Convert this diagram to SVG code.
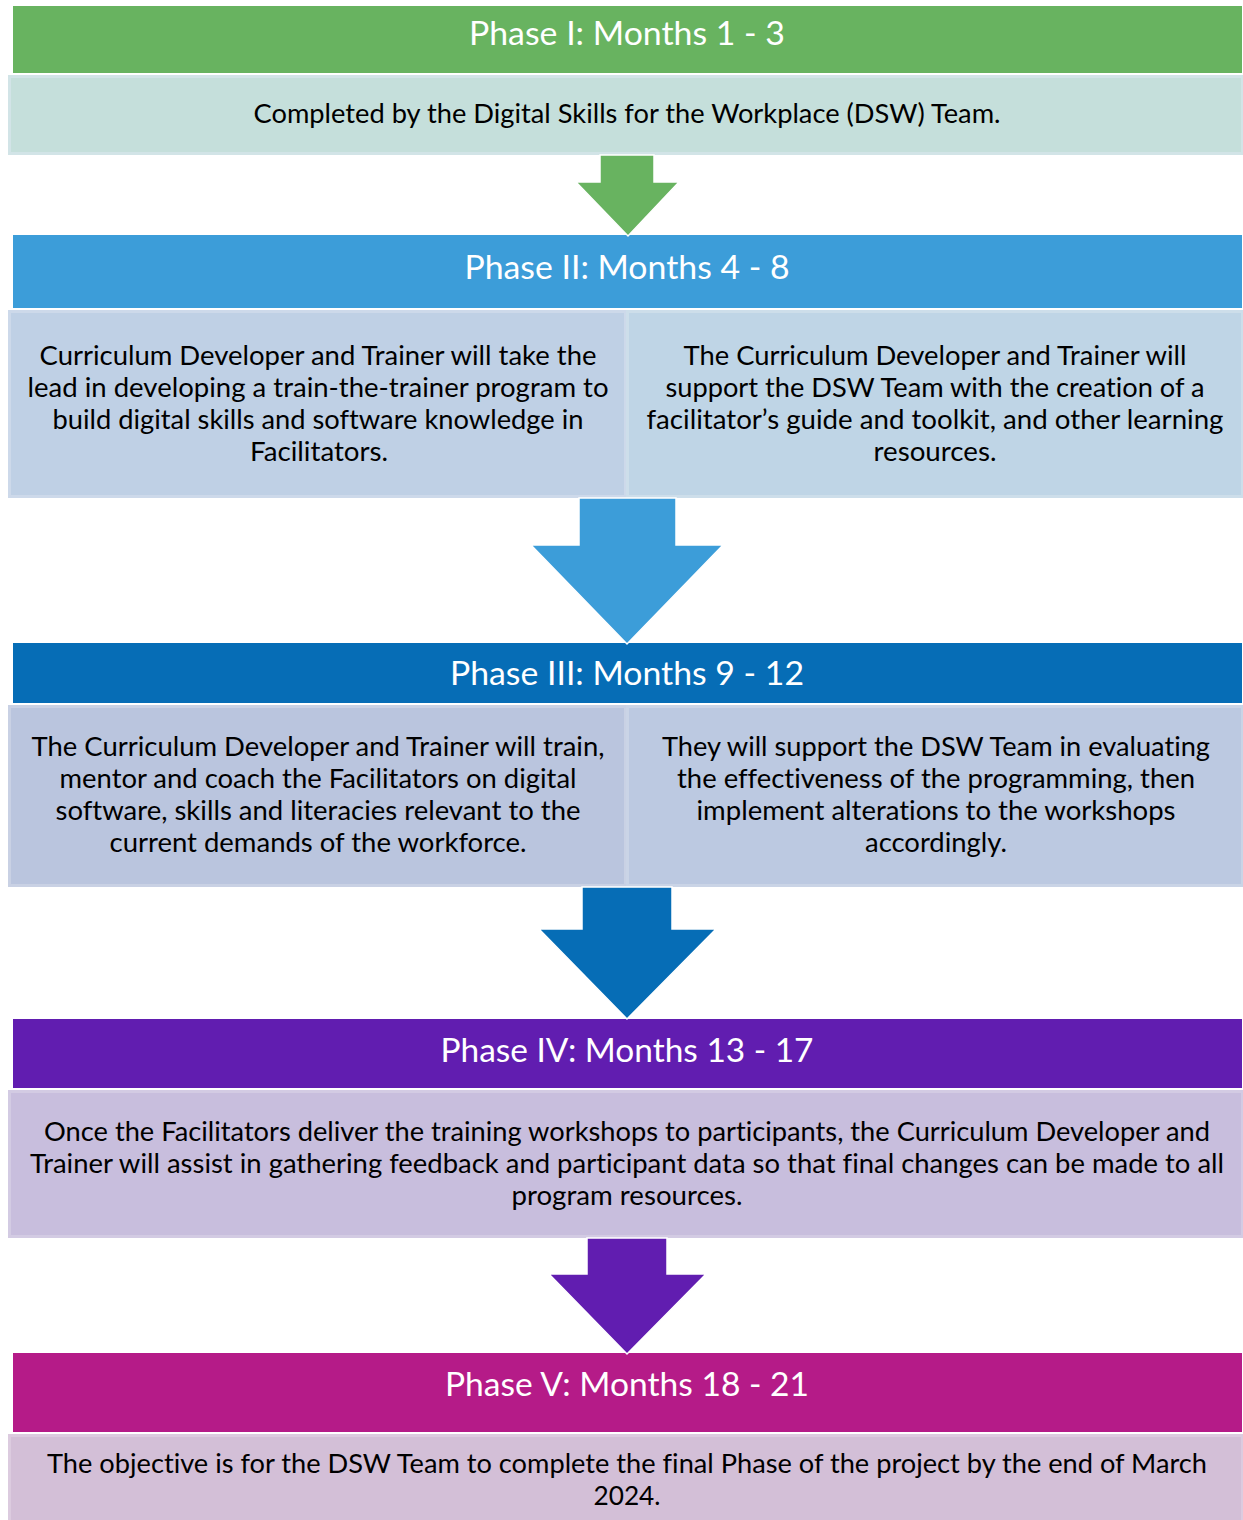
<svg xmlns="http://www.w3.org/2000/svg" width="1243" height="1520" viewBox="0 0 1243 1520">
<style>
.hd{font-family:Lato,"Open Sans","Liberation Sans",sans-serif;font-size:32px;fill:#ffffff;text-anchor:middle;font-variant-ligatures:none}
.bt{font-family:Lato,"Open Sans","Liberation Sans",sans-serif;font-size:26.7px;fill:#000000;text-anchor:middle;font-variant-ligatures:none}
.box{stroke-width:3}
.arr{stroke:#ffffff;stroke-width:1.5;stroke-linejoin:miter}
</style>
<rect width="1243" height="1520" fill="#ffffff"/>
<g id="phase1">
<rect x="13" y="6" width="1229" height="67" fill="#68b360"/>
<text class="hd" x="627" y="45" textLength="316" lengthAdjust="spacingAndGlyphs">Phase I: Months 1 - 3</text>
</g>
<g id="box1">
<rect class="box" x="9.5" y="76.5" width="1233" height="77" fill="#c5dfdb" stroke="#d2e4e7"/>
<text class="bt" x="627" y="123" textLength="747" lengthAdjust="spacingAndGlyphs">Completed by the Digital Skills for the Workplace (DSW) Team.</text>
</g>
<g id="phase2">
<rect x="13" y="235" width="1229" height="73" fill="#3c9dd9"/>
<text class="hd" x="627" y="279" textLength="325" lengthAdjust="spacingAndGlyphs">Phase II: Months 4 - 8</text>
</g>
<g id="box2a">
<rect class="box" x="9.5" y="311.5" width="616" height="185" fill="#bfd0e5" stroke="#cdd9ea"/>
<text class="bt" x="318" y="365" textLength="557" lengthAdjust="spacingAndGlyphs">Curriculum Developer and Trainer will take the</text>
<text class="bt" x="318" y="397" textLength="581" lengthAdjust="spacingAndGlyphs">lead in developing a train-the-trainer program to</text>
<text class="bt" x="318" y="429" textLength="531" lengthAdjust="spacingAndGlyphs">build digital skills and software knowledge in</text>
<text class="bt" x="319" y="461" textLength="138" lengthAdjust="spacingAndGlyphs">Facilitators.</text>
</g>
<g id="box2b">
<rect class="box" x="627.5" y="311.5" width="615" height="185" fill="#bfd5e6" stroke="#cddeea"/>
<text class="bt" x="935" y="365" textLength="503" lengthAdjust="spacingAndGlyphs">The Curriculum Developer and Trainer will</text>
<text class="bt" x="935" y="397" textLength="539" lengthAdjust="spacingAndGlyphs">support the DSW Team with the creation of a</text>
<text class="bt" x="935" y="429" textLength="577" lengthAdjust="spacingAndGlyphs">facilitator’s guide and toolkit, and other learning</text>
<text class="bt" x="935" y="461" textLength="123" lengthAdjust="spacingAndGlyphs">resources.</text>
</g>
<g id="phase3">
<rect x="13" y="643" width="1229" height="60" fill="#066db6"/>
<text class="hd" x="627" y="685" textLength="354" lengthAdjust="spacingAndGlyphs">Phase III: Months 9 - 12</text>
</g>
<g id="box3a">
<rect class="box" x="9.5" y="706.5" width="616" height="179" fill="#bac5de" stroke="#c9d1e4"/>
<text class="bt" x="318" y="756" textLength="573" lengthAdjust="spacingAndGlyphs">The Curriculum Developer and Trainer will train,</text>
<text class="bt" x="318" y="788" textLength="517" lengthAdjust="spacingAndGlyphs">mentor and coach the Facilitators on digital</text>
<text class="bt" x="318" y="820" textLength="525" lengthAdjust="spacingAndGlyphs">software, skills and literacies relevant to the</text>
<text class="bt" x="318" y="852" textLength="417" lengthAdjust="spacingAndGlyphs">current demands of the workforce.</text>
</g>
<g id="box3b">
<rect class="box" x="627.5" y="706.5" width="615" height="179" fill="#bcc9e1" stroke="#cad4e6"/>
<text class="bt" x="936" y="756" textLength="548" lengthAdjust="spacingAndGlyphs">They will support the DSW Team in evaluating</text>
<text class="bt" x="936" y="788" textLength="518" lengthAdjust="spacingAndGlyphs">the effectiveness of the programming, then</text>
<text class="bt" x="936" y="820" textLength="479" lengthAdjust="spacingAndGlyphs">implement alterations to the workshops</text>
<text class="bt" x="936" y="852" textLength="142" lengthAdjust="spacingAndGlyphs">accordingly.</text>
</g>
<g id="phase4">
<rect x="13" y="1019" width="1229" height="69" fill="#611db0"/>
<text class="hd" x="627" y="1062" textLength="373" lengthAdjust="spacingAndGlyphs">Phase IV: Months 13 - 17</text>
</g>
<g id="box4">
<rect class="box" x="9.5" y="1091.5" width="1233" height="145" fill="#c8bedd" stroke="#d3cbe3"/>
<text class="bt" x="627" y="1141" textLength="1166" lengthAdjust="spacingAndGlyphs">Once the Facilitators deliver the training workshops to participants, the Curriculum Developer and</text>
<text class="bt" x="627" y="1173" textLength="1194" lengthAdjust="spacingAndGlyphs">Trainer will assist in gathering feedback and participant data so that final changes can be made to all</text>
<text class="bt" x="627" y="1205" textLength="231" lengthAdjust="spacingAndGlyphs">program resources.</text>
</g>
<g id="phase5">
<rect x="13" y="1353" width="1229" height="79" fill="#b51b88"/>
<text class="hd" x="627" y="1396" textLength="364" lengthAdjust="spacingAndGlyphs">Phase V: Months 18 - 21</text>
</g>
<g id="box5">
<rect class="box" x="9.5" y="1435.5" width="1233" height="90" fill="#d3bfd7" stroke="#dccbdf"/>
<text class="bt" x="627" y="1473" textLength="1160" lengthAdjust="spacingAndGlyphs">The objective is for the DSW Team to complete the final Phase of the project by the end of March</text>
<text class="bt" x="627" y="1505" textLength="67" lengthAdjust="spacingAndGlyphs">2024.</text>
</g>
<g id="connectors">
<polygon class="arr" fill="#68b360" points="600,155 654,155 654,182 679,182 628,236 576,182 600,182"/>
<polygon class="arr" fill="#3c9dd9" points="579,498 676,498 676,545 723,545 627,644 531,545 579,545"/>
<polygon class="arr" fill="#066db6" points="582,887 672,887 672,929 716,929 627,1019 539,929 582,929"/>
<polygon class="arr" fill="#611db0" points="587,1238 667,1238 667,1274 706,1274 627,1354 549,1274 587,1274"/>
</g>
</svg>
